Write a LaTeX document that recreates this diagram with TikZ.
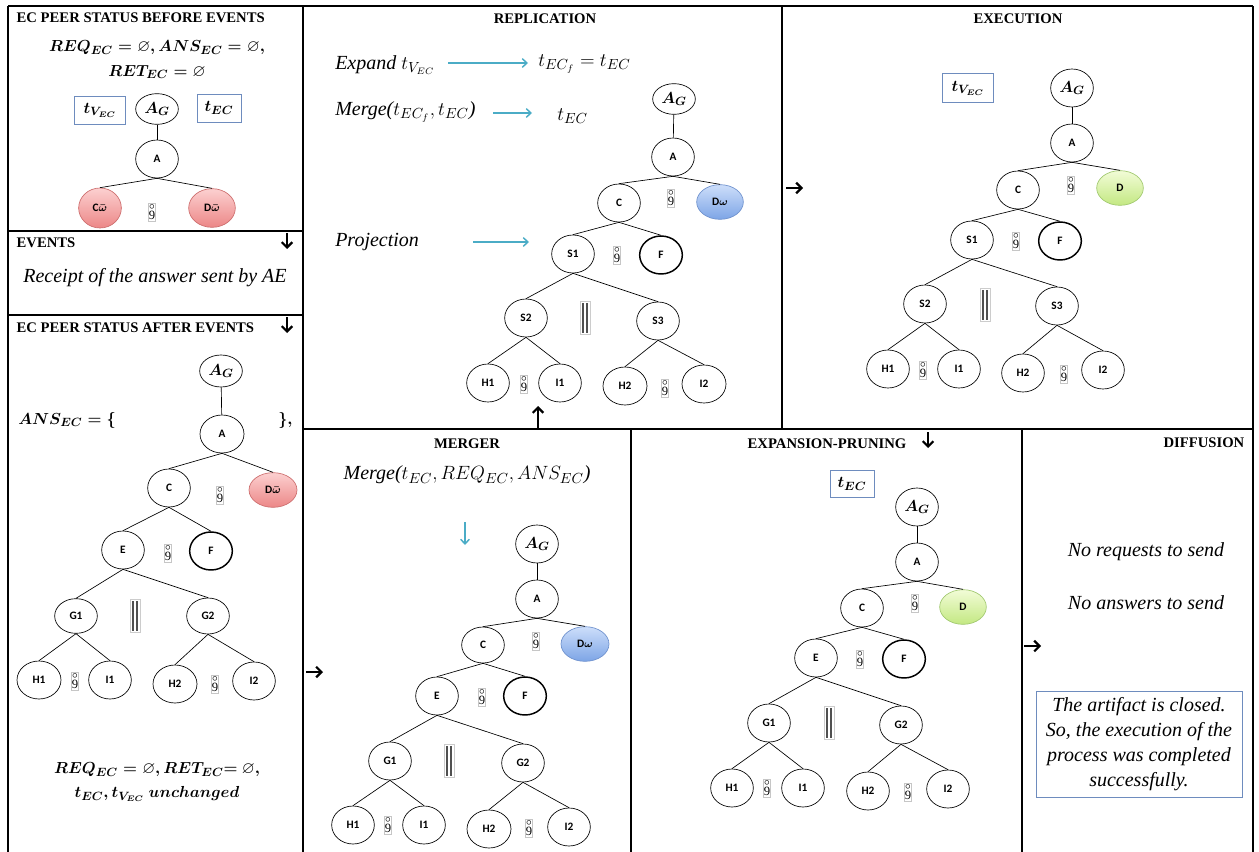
\documentclass[tikz,border=0pt]{standalone}
\usepackage{amsmath,amssymb}
\usepackage{fontspec}
\setmainfont{Liberation Serif}[ItalicFont={Liberation Serif Italic}, BoldFont={Liberation Serif Bold}, BoldItalicFont={Liberation Serif Bold Italic}]
\newfontfamily\carlito{Carlito}
\usetikzlibrary{shapes.geometric,arrows.meta}

\definecolor{boxblue}{RGB}{110,140,190}
\definecolor{arrblue}{RGB}{75,172,198}
\definecolor{redtop}{RGB}{252,208,208}
\definecolor{redbot}{RGB}{236,135,135}
\definecolor{redline}{RGB}{205,110,110}
\definecolor{bluetop}{RGB}{205,222,250}
\definecolor{bluebot}{RGB}{125,165,230}
\definecolor{blueline}{RGB}{110,145,205}
\definecolor{greentop}{RGB}{242,252,215}
\definecolor{greenbot}{RGB}{195,232,130}
\definecolor{greenline}{RGB}{160,200,110}
\definecolor{pargray}{RGB}{80,80,80}

\newcommand\zseq{\shortstack{\fontsize{8}{8}\selectfont$\circ$\\[-1.8pt]\fontsize{9.5}{9.5}\selectfont 9}}
\newcommand\parsym{\rule{1.1pt}{22pt}\hspace{2.2pt}\rule{1.1pt}{22pt}}

\tikzset{
  nd/.style={ellipse, draw, line width=0.5pt, minimum width=32pt, minimum height=28.5pt, inner sep=0pt, font=\carlito\bfseries\fontsize{8.5}{10}\selectfont},
  agnd/.style={nd, font=\fontsize{12.5}{14}\selectfont},
  fnd/.style={nd, line width=1.1pt},
  rnd/.style={nd, draw=redline, top color=redtop, bottom color=redbot, minimum width=35pt, minimum height=28pt},
  bnd/.style={nd, draw=blueline, top color=bluetop, bottom color=bluebot, minimum width=35pt, minimum height=26pt},
  gnd/.style={nd, draw=greenline, top color=greentop, bottom color=greenbot, minimum width=35pt, minimum height=26pt},
  seqs/.style={draw=gray!45, line width=0.4pt, inner sep=0.3pt, minimum width=4.5pt, minimum height=13.5pt},
  pars/.style={draw=gray!40, line width=0.4pt, inner sep=1.5pt, text=pargray},
  edge/.style={line width=0.5pt},
  ttl/.style={font=\bfseries\fontsize{11}{13}\selectfont},
  mth/.style={font=\fontsize{12.5}{15}\selectfont, inner sep=0pt},
  itx/.style={font=\itshape\fontsize{15}{18}\selectfont, inner sep=0pt},
  tbox/.style={draw=boxblue, line width=0.6pt, minimum width=34pt, minimum height=21pt, inner sep=0pt, font=\fontsize{13}{15}\selectfont},
  barrow/.style={arrblue, line width=1.1pt, -{Straight Barb[length=3.5pt,width=6.5pt]}},
  karrow/.style={line width=1.6pt, -{Straight Barb[length=4pt,width=8pt]}},
  panel/.style={line width=1.5pt}
}

\begin{document}
\begin{tikzpicture}[x=0.75pt,y=-0.75pt]
\useasboundingbox (0,0) rectangle (1259,852);

% ---------- panel frames ----------
\draw[panel] (8,6) -- (1253,6);
\draw[panel] (8,6) -- (8,852);
\draw[panel] (303,6) -- (303,852);
\draw[panel] (782,6) -- (782,429);
\draw[panel] (1253,6) -- (1253,852);
\draw[panel] (8,231) -- (303,231);
\draw[panel] (8,315) -- (303,315);
\draw[panel] (303,429) -- (1253,429);
\draw[panel] (631,429) -- (631,852);
\draw[panel] (1022,429) -- (1022,852);

% ---------- EC PEER STATUS BEFORE EVENTS ----------
\node[ttl, anchor=west] (t1) at (12,18) {EC PEER STATUS BEFORE EVENTS};
\node[mth] (m1) at (157,48) {$\boldsymbol{REQ_{EC}=\varnothing, ANS_{EC}=\varnothing,}$};
\node[mth] (m2) at (157,72) {$\boldsymbol{RET_{EC}=\varnothing}$};
\node[tbox, minimum width=38pt] (tv1) at (100,110) {$\boldsymbol{t_{V_{EC}}}$};
\node[tbox, minimum width=33pt] (te1) at (219,108) {$\boldsymbol{t_{EC}}$};
\node[agnd, minimum height=23pt] (AGa) at (157,109) {$\boldsymbol{A_G}$};
\node[nd] (Aa) at (157,159) {A};
\node[rnd, minimum width=32pt, minimum height=30pt] (Ca) at (100,208) {C$\boldsymbol{\bar\omega}$};
\node[rnd, minimum height=29pt] (Da) at (212,208) {D$\boldsymbol{\bar\omega}$};
\node[seqs] (sa1) at (152,212) {\zseq};
\draw[edge] (AGa) -- (Aa);
\draw[edge] (Aa.south) -- (Ca.north);
\draw[edge] (Aa.south) -- (Da.north);

% ---------- EVENTS ----------
\node[ttl, anchor=west] (t2) at (12,243) {EVENTS};
\coordinate (ev1) at (287,233);
\coordinate (ev2) at (287,249);
\draw[karrow] (ev1) -- (ev2);
\node[itx] (evt) at (155,278) {Receipt of the answer sent by AE};

% ---------- EC PEER STATUS AFTER EVENTS ----------
\node[ttl, anchor=west] (t3) at (12,328) {EC PEER STATUS AFTER EVENTS};
\coordinate (ev3) at (287,317);
\coordinate (ev4) at (287,333);
\draw[karrow] (ev3) -- (ev4);
\node[mth, anchor=west] (ans1) at (18,420) {$\boldsymbol{ANS_{EC}=\{}$};
\node[mth, anchor=west] (ans2) at (278,420) {$\boldsymbol{\},}$};
\node[agnd, minimum height=24pt] (AGb) at (221,371) {$\boldsymbol{A_G}$};
\node[nd, minimum width=33pt] (Ab) at (222,434) {A};
\node[nd] (Cb) at (169,488) {C};
\node[rnd, minimum width=36pt, minimum height=26pt] (Db) at (273,490) {D$\boldsymbol{\bar\omega}$};
\node[seqs] (sb1) at (220,495) {\zseq};
\node[nd] (Eb) at (123,550) {E};
\node[seqs] (sb2) at (168,553) {\zseq};
\node[fnd] (Fb) at (211,551) {F};
\node[nd, minimum height=26pt] (G1b) at (76,616) {G1};
\node[pars] (pb) at (135,616) {\parsym};
\node[nd, minimum height=27pt] (G2b) at (208,616) {G2};
\node[nd, minimum width=33pt] (H1b) at (39,680) {H1};
\node[seqs] (sb3) at (75,681) {\zseq};
\node[nd] (I1b) at (110,680) {I1};
\node[nd, minimum width=33pt] (H2b) at (175,684) {H2};
\node[seqs] (sb4) at (215,684) {\zseq};
\node[nd] (I2b) at (254,681) {I2};
\draw[edge] (AGb) -- (Ab);
\draw[edge] (Ab.south) -- (Cb.north);
\draw[edge] (Ab.south) -- (Db.north);
\draw[edge] (Cb.south) -- (Eb.north);
\draw[edge] (Cb.south) -- (Fb.north);
\draw[edge] (Eb.south) -- (G1b.north);
\draw[edge] (Eb.south) -- (G2b.north);
\draw[edge] (G1b.south) -- (H1b.north);
\draw[edge] (G1b.south) -- (I1b.north);
\draw[edge] (G2b.south) -- (H2b.north);
\draw[edge] (G2b.south) -- (I2b.north);
\node[mth] (m3) at (157,770) {$\boldsymbol{REQ_{EC}=\varnothing, RET_{EC}{=}\ \varnothing,}$};
\node[mth] (m4) at (157,794) {$\boldsymbol{t_{EC}, t_{V_{EC}}\ unchanged}$};

% ---------- REPLICATION ----------
\node[ttl] (t4) at (545,19) {REPLICATION};
\node[itx, anchor=west] (x1) at (335,65) {Expand \upshape$t_{V_{EC}}$};
\coordinate (b1s) at (448,63);
\coordinate (b1e) at (528,63);
\draw[barrow] (b1s) -- (b1e);
\node[itx, anchor=west] (x2) at (538,64) {\upshape$t_{EC_f}=t_{EC}$};
\node[itx, anchor=west] (x3) at (335,112) {Merge($t_{EC_f}, t_{EC}$)};
\coordinate (b2s) at (493,113);
\coordinate (b2e) at (532,113);
\draw[barrow] (b2s) -- (b2e);
\node[itx, anchor=west] (x4) at (557,116) {\upshape$t_{EC}$};
\node[itx, anchor=west] (x5) at (335,242) {Projection};
\coordinate (b3s) at (473,242);
\coordinate (b3e) at (529,242);
\draw[barrow] (b3s) -- (b3e);

\node[agnd, minimum height=23pt] (AGc) at (674,99) {$\boldsymbol{A_G}$};
\node[nd] (Ac) at (673,157) {A};
\node[nd] (Cc) at (619,203) {C};
\node[seqs] (sc1) at (671,198) {\zseq};
\node[bnd] (Dc) at (720,202) {D$\boldsymbol{\omega}$};
\node[nd] (S1c) at (573,254) {S1};
\node[seqs] (sc2) at (617,255) {\zseq};
\node[fnd] (Fc) at (661,255) {F};
\node[nd] (S2c) at (526,318) {S2};
\node[pars] (pc) at (585,318) {\parsym};
\node[nd] (S3c) at (658,321) {S3};
\node[nd] (H1c) at (488,383) {H1};
\node[seqs] (sc3) at (524,384) {\zseq};
\node[nd] (I1c) at (560,383) {I1};
\node[nd, minimum width=33pt] (H2c) at (625,386) {H2};
\node[seqs] (sc4) at (665,388) {\zseq};
\node[nd, minimum width=33pt] (I2c) at (704,384) {I2};
\draw[edge] (AGc) -- (Ac);
\draw[edge] (Ac.south) -- (Cc.north);
\draw[edge] (Ac.south) -- (Dc.north);
\draw[edge] (Cc.south) -- (S1c.north);
\draw[edge] (Cc.south) -- (Fc.north);
\draw[edge] (S1c.south) -- (S2c.north);
\draw[edge] (S1c.south) -- (S3c.north);
\draw[edge] (S2c.south) -- (H1c.north);
\draw[edge] (S2c.south) -- (I1c.north);
\draw[edge] (S3c.south) -- (H2c.north);
\draw[edge] (S3c.south) -- (I2c.north);
\coordinate (u1) at (538,428);
\coordinate (u2) at (538,406);
\draw[karrow] (u1) -- (u2);

% ---------- EXECUTION ----------
\node[ttl] (t5) at (1018,19) {EXECUTION};
\coordinate (r1) at (786,188);
\coordinate (r2) at (803,188);
\draw[karrow] (r1) -- (r2);
\node[tbox, minimum width=38pt, minimum height=22pt] (tv2) at (968,88) {$\boldsymbol{t_{V_{EC}}}$};
\node[agnd] (AGd) at (1072,88) {$\boldsymbol{A_G}$};
\node[nd] (Ad) at (1072,143) {A};
\node[nd] (Cd) at (1018,190) {C};
\node[seqs] (sd1) at (1071,185) {\zseq};
\node[gnd] (Dd) at (1120,188) {D};
\node[nd] (S1d) at (972,240) {S1};
\node[seqs] (sd2) at (1016,241) {\zseq};
\node[fnd] (Fd) at (1060,241) {F};
\node[nd] (S2d) at (925,304) {S2};
\node[pars] (pd) at (985,305) {\parsym};
\node[nd] (S3d) at (1057,306) {S3};
\node[nd] (H1d) at (888,369) {H1};
\node[seqs] (sd3) at (923,370) {\zseq};
\node[nd] (I1d) at (959,369) {I1};
\node[nd] (H2d) at (1023,373) {H2};
\node[seqs] (sd4) at (1064,374) {\zseq};
\node[nd] (I2d) at (1103,370) {I2};
\draw[edge] (AGd) -- (Ad);
\draw[edge] (Ad.south) -- (Cd.north);
\draw[edge] (Ad.south) -- (Dd.north);
\draw[edge] (Cd.south) -- (S1d.north);
\draw[edge] (Cd.south) -- (Fd.north);
\draw[edge] (S1d.south) -- (S2d.north);
\draw[edge] (S1d.south) -- (S3d.north);
\draw[edge] (S2d.south) -- (H1d.north);
\draw[edge] (S2d.south) -- (I1d.north);
\draw[edge] (S3d.south) -- (H2d.north);
\draw[edge] (S3d.south) -- (I2d.north);

% ---------- MERGER ----------
\node[ttl] (t6) at (467,444) {MERGER};
\node[itx] (x6) at (467,475) {Merge($t_{EC}, REQ_{EC}, ANS_{EC}$)};
\coordinate (b4s) at (465,522);
\coordinate (b4e) at (465,545);
\draw[barrow] (b4s) -- (b4e);
\coordinate (r3) at (306,672);
\coordinate (r4) at (323,672);
\draw[karrow] (r3) -- (r4);
\node[agnd] (AGe) at (537,544) {$\boldsymbol{A_G}$};
\node[nd] (Ae) at (537,599) {A};
\node[nd, minimum height=27pt] (Ce) at (483,645) {C};
\node[seqs] (se1) at (536,641) {\zseq};
\node[bnd, minimum width=36pt] (De) at (585,644) {D$\boldsymbol{\omega}$};
\node[nd] (Ee) at (437,696) {E};
\node[seqs] (se2) at (482,697) {\zseq};
\node[fnd] (Fe) at (525,696) {F};
\node[nd] (G1e) at (390,761) {G1};
\node[pars] (pe) at (449,761) {\parsym};
\node[nd] (G2e) at (523,763) {G2};
\node[nd] (H1e) at (353,825) {H1};
\node[seqs] (se3) at (388,825) {\zseq};
\node[nd] (I1e) at (424,825) {I1};
\node[nd, minimum width=33pt] (H2e) at (489,829) {H2};
\node[seqs] (se4) at (529,828) {\zseq};
\node[nd] (I2e) at (569,827) {I2};
\draw[edge] (AGe) -- (Ae);
\draw[edge] (Ae.south) -- (Ce.north);
\draw[edge] (Ae.south) -- (De.north);
\draw[edge] (Ce.south) -- (Ee.north);
\draw[edge] (Ce.south) -- (Fe.north);
\draw[edge] (Ee.south) -- (G1e.north);
\draw[edge] (Ee.south) -- (G2e.north);
\draw[edge] (G1e.south) -- (H1e.north);
\draw[edge] (G1e.south) -- (I1e.north);
\draw[edge] (G2e.south) -- (H2e.north);
\draw[edge] (G2e.south) -- (I2e.north);

% ---------- EXPANSION-PRUNING ----------
\node[ttl] (t7) at (827,444) {EXPANSION-PRUNING};
\coordinate (d1) at (928,432);
\coordinate (d2) at (928,448);
\draw[karrow] (d1) -- (d2);
\node[tbox, minimum width=33pt, minimum height=20pt] (te2) at (852,484) {$\boldsymbol{t_{EC}}$};
\node[agnd] (AGf) at (917,507) {$\boldsymbol{A_G}$};
\node[nd] (Af) at (917,562) {A};
\node[nd] (Cf) at (862,608) {C};
\node[seqs] (sf1) at (915,603) {\zseq};
\node[gnd] (Df) at (963,607) {D};
\node[nd] (Ef) at (816,658) {E};
\node[seqs] (sf2) at (860,659) {\zseq};
\node[fnd] (Ff) at (904,659) {F};
\node[nd] (G1f) at (769,723) {G1};
\node[pars] (pf) at (829,723) {\parsym};
\node[nd] (G2f) at (901,725) {G2};
\node[nd] (H1f) at (732,788) {H1};
\node[seqs] (sf3) at (767,788) {\zseq};
\node[nd] (I1f) at (803,788) {I1};
\node[nd] (H2f) at (868,791) {H2};
\node[seqs] (sf4) at (908,792) {\zseq};
\node[nd] (I2f) at (948,789) {I2};
\draw[edge] (AGf) -- (Af);
\draw[edge] (Af.south) -- (Cf.north);
\draw[edge] (Af.south) -- (Df.north);
\draw[edge] (Cf.south) -- (Ef.north);
\draw[edge] (Cf.south) -- (Ff.north);
\draw[edge] (Ef.south) -- (G1f.north);
\draw[edge] (Ef.south) -- (G2f.north);
\draw[edge] (G1f.south) -- (H1f.north);
\draw[edge] (G1f.south) -- (I1f.north);
\draw[edge] (G2f.south) -- (H2f.north);
\draw[edge] (G2f.south) -- (I2f.north);

% ---------- DIFFUSION ----------
\node[ttl, anchor=east] (t8) at (1249,443) {DIFFUSION};
\node[itx] (y1) at (1146,552) {No requests to send};
\node[itx] (y2) at (1146,603) {No answers to send};
\coordinate (r5) at (1024,646);
\coordinate (r6) at (1041,646);
\draw[karrow] (r5) -- (r6);
\node[draw=boxblue, line width=0.6pt, minimum width=154.5pt, minimum height=79.5pt, align=center, font=\itshape\fontsize{15}{18.75}\selectfont] (box) at (1139,744) {The artifact is closed.\\So, the execution of the\\process was completed\\successfully.};
\end{tikzpicture}
\end{document}
